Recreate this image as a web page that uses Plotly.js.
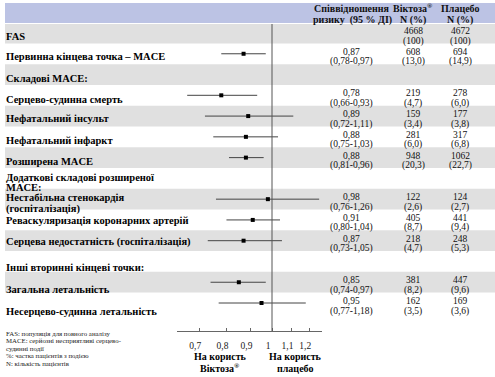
<!DOCTYPE html>
<html>
<head>
<meta charset="utf-8">
<script src="https://cdn.plot.ly/plotly-3.0.1.min.js"></script>
<style>html,body{margin:0;padding:0;background:#fff;}#chart{width:495px;height:377px;}</style>
</head>
<body>
<div id="chart"></div>
<script>
// ---- data ----
const rowLabels = [
  'FAS',
  'Первинна кінцева точка – MACE',
  'Складові MACE:',
  'Серцево-судинна смерть',
  'Нефатальний інсульт',
  'Нефатальний інфаркт',
  'Розширена MACE',
  'Додаткові складові розширеної<br>MACE:',
  'Нестабільна стенокардія<br>(госпіталізація)',
  'Реваскуляризація коронарних артерій',
  'Серцева недостатність (госпіталізація)',
  'Інші вторинні кінцеві точки:',
  'Загальна летальність',
  'Несерцево-судинна летальність'
];
const endpoints = [
  'Первинна кінцева точка – MACE',
  'Серцево-судинна смерть',
  'Нефатальний інсульт',
  'Нефатальний інфаркт',
  'Розширена MACE',
  'Нестабільна стенокардія<br>(госпіталізація)',
  'Реваскуляризація коронарних артерій',
  'Серцева недостатність (госпіталізація)',
  'Загальна летальність',
  'Несерцево-судинна летальність'
];
const hazardRatio = [0.87, 0.78, 0.89, 0.88, 0.88, 0.98, 0.91, 0.87, 0.85, 0.95];
const ciLow  = [0.78, 0.66, 0.72, 0.75, 0.81, 0.76, 0.80, 0.73, 0.74, 0.77];
const ciHigh = [0.97, 0.93, 1.11, 1.03, 0.96, 1.26, 1.04, 1.05, 0.97, 1.18];

const countRows = ['FAS'].concat(endpoints);
const victozaN   = [4668, 608, 219, 159, 281, 948, 122, 405, 218, 381, 162];
const victozaPct = ['100', '13,0', '4,7', '3,4', '6,0', '20,3', '2,6', '8,7', '4,7', '8,2', '3,5'];
const placeboN   = [4672, 694, 278, 177, 317, 1062, 124, 441, 248, 447, 169];
const placeboPct = ['100', '14,9', '6,0', '3,8', '6,8', '22,7', '2,7', '9,4', '5,3', '9,6', '3,6'];

const tickValues = [0.7, 0.8, 0.9, 1, 1.1, 1.2];
const tickLabels = ['0,7', '0,8', '0,9', '1', '1,1', '1,2'];

const headers = {
  hr: ['Співвідношення', 'ризику  (95 % ДІ)'],
  vic: ['Віктоза<sup>®</sup>', 'N (%)'],
  pla: ['Плацебо', 'N (%)']
};
const favourLeft = ['На користь', 'Віктоза<sup>®</sup>'];
const favourRight = ['На користь', 'плацебо'];
const footnotes = [
  'FAS: популяція для повного аналізу',
  'MACE: серйозні несприятливі серцево-',
  'судинні події',
  '%: частка пацієнтів з подією',
  'N: кількість пацієнтів'
];

// ---- layout constants ----
const W = 495, H = 377;
const SERIF = 'Liberation Serif, Times New Roman, Times, serif';
const px = x => x / W;
const py = y => (H - y) / H;
const labelDy = [3, 3, 4, 4, 2, 4, 4, null, null, 1, 1, 6.5, 7, 8];
const fmt = v => v.toFixed(2).replace('.', ',');

const annotations = [];
function addAnn(o) {
  annotations.push(Object.assign({showarrow: false, borderpad: 0, font: {family: SERIF, size: 9.5, color: '#111'}}, o));
}

const bold10 = {family: SERIF, size: 10.5, color: '#000', weight: 'bold'};
// left labels
rowLabels.forEach((lab, i) => {
  const parts = lab.split('<br>');
  if (parts.length === 1) {
    addAnn({text: lab, xref: 'paper', x: px(5), xanchor: 'left', yref: 'y', y: i, yanchor: 'middle',
            yshift: -labelDy[i], font: bold10});
  } else {
    addAnn({text: parts[0], xref: 'paper', x: px(5), xanchor: 'left', yref: 'y', y: i, yanchor: 'middle',
            yshift: 1.2, font: bold10});
    addAnn({text: parts[1], xref: 'paper', x: px(5), xanchor: 'left', yref: 'y', y: i, yanchor: 'middle',
            yshift: -9.5, font: bold10});
  }
});

// numeric columns
function cell(xc, rowName, l1, l2) {
  const idx = rowLabels.indexOf(rowName);
  addAnn({text: l1, xref: 'paper', x: px(xc), xanchor: 'center', yref: 'y', y: idx, yanchor: 'middle', yshift: 2});
  addAnn({text: l2, xref: 'paper', x: px(xc), xanchor: 'center', yref: 'y', y: idx, yanchor: 'middle', yshift: -8});
}
endpoints.forEach((r, i) => cell(351, r, fmt(hazardRatio[i]), '(' + fmt(ciLow[i]) + '-' + fmt(ciHigh[i]) + ')'));
countRows.forEach((r, i) => {
  cell(413, r, String(victozaN[i]), '(' + victozaPct[i] + ')');
  cell(460, r, String(placeboN[i]), '(' + placeboPct[i] + ')');
});

// headers
const hfont = {family: SERIF, size: 10, color: '#111', weight: 'bold'};
[[352, headers.hr], [413, headers.vic], [460, headers.pla]].forEach(([x, h]) => {
  addAnn({text: h[0], xref: 'paper', yref: 'paper', x: px(x), y: py(8), xanchor: 'center', yanchor: 'middle', font: hfont});
  addAnn({text: h[1], xref: 'paper', yref: 'paper', x: px(x), y: py(20), xanchor: 'center', yanchor: 'middle', font: hfont});
});

// favour labels
const ffont = {family: SERIF, size: 10, color: '#000', weight: 'bold'};
[[220, favourLeft], [295, favourRight]].forEach(([x, f]) => {
  addAnn({text: f[0], xref: 'paper', yref: 'paper', x: px(x), y: py(356.5), xanchor: 'center', yanchor: 'middle', font: ffont});
  addAnn({text: f[1], xref: 'paper', yref: 'paper', x: px(x), y: py(368), xanchor: 'center', yanchor: 'middle', font: ffont});
});

// footnotes
footnotes.forEach((t, i) => {
  addAnn({text: t, xref: 'paper', yref: 'paper', x: px(5), y: py(333.5 + i * 7.4), xanchor: 'left', yanchor: 'middle',
          font: {family: SERIF, size: 6.8, color: '#222'}});
});

// background bands
const shapes = [];
shapes.push({type: 'rect', xref: 'paper', yref: 'paper', x0: px(5), x1: 1, y0: py(23), y1: py(3),
             fillcolor: '#bcc3e4', line: {width: 0}, layer: 'below'});
for (let i = 0; i < rowLabels.length; i += 2) {
  shapes.push({type: 'rect', xref: 'paper', yref: 'y', x0: px(5), x1: 1, y0: i - 0.5, y1: i + 0.5,
               fillcolor: '#e0e0e0', line: {width: 0}, layer: 'below'});
}
shapes.push({type: 'line', xref: 'x', yref: 'y domain', x0: 1, x1: 1, y0: 0, y1: 1,
             line: {color: '#555', width: 1}});

const trace = {
  type: 'scatter', mode: 'markers',
  x: hazardRatio, y: endpoints,
  marker: {symbol: 'square', size: 4, color: '#000'},
  error_x: {type: 'data', symmetric: false,
            array: hazardRatio.map((v, i) => ciHigh[i] - v),
            arrayminus: hazardRatio.map((v, i) => v - ciLow[i]),
            color: '#444', thickness: 1, width: 0},
  hoverinfo: 'skip'
};

const slot = 20.77, firstSlotPx = 33;
const yTopPx = 24, yBotPx = 331;
const layout = {
  width: W, height: H,
  margin: {l: 0, r: 0, t: 0, b: 0, pad: 0},
  paper_bgcolor: '#fff', plot_bgcolor: 'rgba(0,0,0,0)',
  showlegend: false,
  xaxis: {
    type: 'log',
    domain: [px(177), px(322)],
    range: [-95 / 470, 50 / 470],
    tickvals: tickValues, ticktext: tickLabels,
    ticks: 'inside', ticklen: 3, tickcolor: '#666',
    showline: true, linecolor: '#666', linewidth: 1,
    showgrid: false, zeroline: false,
    tickfont: {family: SERIF, size: 9.5, color: '#222'},
    ticklabelshift: -4, ticklabelstandoff: 6,
    fixedrange: true
  },
  yaxis: {
    type: 'category', categoryarray: rowLabels, categoryorder: 'array',
    domain: [py(yBotPx), py(yTopPx)],
    range: [13 + (yBotPx - (firstSlotPx + 13 * slot)) / slot, -(firstSlotPx - yTopPx) / slot],
    showticklabels: false, showgrid: false, zeroline: false, showline: false, ticks: '',
    fixedrange: true
  },
  shapes: shapes,
  annotations: annotations
};

// register all row categories in order
const categoryHolder = {type: 'scatter', mode: 'markers', x: rowLabels.map(() => 1), y: rowLabels,
               marker: {opacity: 0, size: 1}, hoverinfo: 'skip'};

Plotly.newPlot('chart', [categoryHolder, trace], layout, {displayModeBar: false, staticPlot: true});
</script>
</body>
</html>
